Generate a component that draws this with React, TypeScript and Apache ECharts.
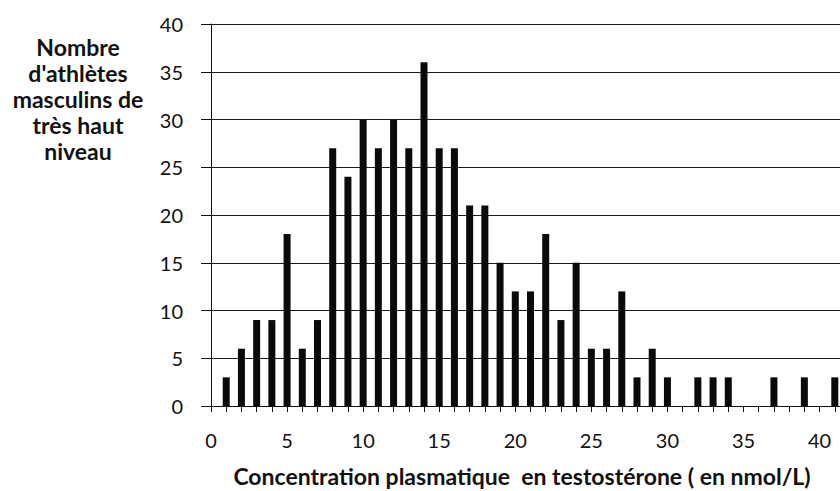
import React, { useEffect, useRef } from "react";
import * as echarts from "echarts";

const concentrations: string[] = [
  "0", "1", "2", "3", "4", "5", "6", "7", "8", "9", "10",
  "11", "12", "13", "14", "15", "16", "17", "18", "19", "20",
  "21", "22", "23", "24", "25", "26", "27", "28", "29", "30",
  "31", "32", "33", "34", "35", "36", "37", "38", "39", "40",
  "41", "42",
];

const athleteCounts: (number | null)[] = [
  null, 3, 6, 9, 9, 18, 6, 9, 27, 24, 30,
  27, 30, 27, 36, 27, 27, 21, 21, 15, 12,
  12, 18, 9, 15, 6, 6, 12, 3, 6, 3,
  null, 3, 3, 3, null, null, 3, null, 3, null,
  3, null,
];

const yTitleLines: string[] = ["Nombre", "d'athlètes", "masculins de", "très haut", "niveau"];
const xTitle = "Concentration plasmatique  en testostérone ( en nmol/L)";

export default function App() {
  const ref = useRef<HTMLDivElement>(null);

  useEffect(() => {
    document.body.style.margin = "0";
    if (!ref.current) return;
    const chart = echarts.init(ref.current, null, { renderer: "svg" });
    const font = "Lato, 'Open Sans', sans-serif";
    chart.setOption({
      animation: false,
      backgroundColor: "#ffffff",
      grid: {
        left: 211,
        top: 24,
        width: 639,
        height: 382,
        containLabel: false,
        outerBoundsMode: "none",
      },
      xAxis: {
        type: "category",
        data: concentrations,
        boundaryGap: false,
        axisLine: { show: true, lineStyle: { color: "#111", width: 1 } },
        axisTick: { show: true, interval: 0, length: 6, lineStyle: { color: "#111", width: 1 } },
        axisLabel: { interval: 4, margin: 24, color: "#111", fontFamily: font, fontSize: 20 },
        splitLine: { show: false },
      },
      yAxis: {
        type: "value",
        min: 0,
        max: 40,
        interval: 5,
        axisLine: { show: true, lineStyle: { color: "#111", width: 1 } },
        axisTick: { show: true, length: 10, lineStyle: { color: "#111", width: 1 } },
        axisLabel: { margin: 28, color: "#111", fontFamily: font, fontSize: 20 },
        splitLine: { show: true, lineStyle: { color: "#1a1a1a", width: 1.2 } },
      },
      series: [
        {
          type: "bar",
          data: athleteCounts,
          barWidth: 7,
          itemStyle: { color: "#0a0a0a" },
        },
      ],
      graphic: [
        {
          type: "text",
          x: 78,
          y: 34,
          style: {
            text: yTitleLines.join("\n"),
            fill: "#111",
            font: `bold 23px ${font}`,
            lineHeight: 26,
            textAlign: "center",
            align: "center",
            textVerticalAlign: "top",
            verticalAlign: "top",
          },
        },
        {
          type: "text",
          x: 522,
          y: 476,
          style: {
            text: xTitle,
            fill: "#111",
            font: `bold 23px ${font}`,
            textAlign: "center",
            align: "center",
            textVerticalAlign: "middle",
            verticalAlign: "middle",
          },
        },
      ],
    });
    return () => chart.dispose();
  }, []);

  return <div ref={ref} style={{ width: 840, height: 491 }} />;
}
